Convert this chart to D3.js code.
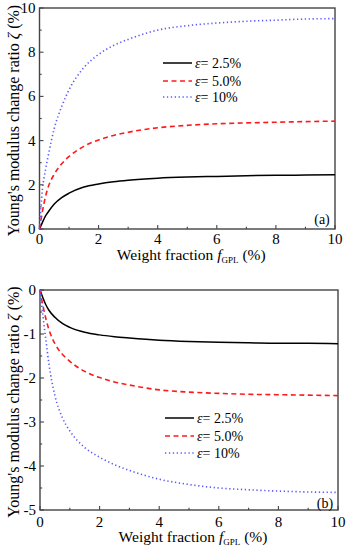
<!DOCTYPE html>
<html><head><meta charset="utf-8">
<script src="https://cdn.jsdelivr.net/npm/d3@7"></script>
<style>
html,body{margin:0;padding:0;background:#fff;}
svg{display:block;}
</style></head>
<body><svg id="c" width="348" height="550"></svg>
<script>
// Weight fraction f_GPL (%)
const fGPL = [0, 0.1, 0.2, 0.3, 0.5, 0.75, 1, 1.5, 2, 2.5, 3, 4, 5, 6, 7, 8, 9, 10];
// Panel (a)
const a_eps25 = [0, 0.30, 0.58, 0.78, 1.13, 1.42, 1.62, 1.90, 2.04, 2.14, 2.21, 2.30, 2.35, 2.38, 2.41, 2.43, 2.44, 2.45];
const a_eps50 = [0, 0.80, 1.45, 1.92, 2.48, 2.95, 3.28, 3.74, 4.03, 4.23, 4.38, 4.58, 4.69, 4.76, 4.80, 4.83, 4.86, 4.88];
const a_eps10 = [0, 1.80, 2.65, 3.35, 4.55, 5.54, 6.30, 7.30, 7.90, 8.30, 8.58, 9.00, 9.20, 9.32, 9.40, 9.45, 9.50, 9.52];
// Panel (b)
const b_eps25 = [0, -0.18, -0.34, -0.46, -0.62, -0.76, -0.85, -0.96, -1.02, -1.06, -1.09, -1.14, -1.17, -1.19, -1.20, -1.21, -1.21, -1.22];
const b_eps50 = [0, -0.36, -0.66, -0.90, -1.22, -1.46, -1.62, -1.85, -1.99, -2.09, -2.16, -2.27, -2.32, -2.35, -2.37, -2.38, -2.39, -2.40];
const b_eps10 = [0, -0.60, -1.15, -1.68, -2.40, -2.90, -3.20, -3.58, -3.80, -3.97, -4.10, -4.30, -4.42, -4.50, -4.54, -4.57, -4.59, -4.60];

const seriesNames = ["2.5%", "5.0%", "10%"];
const xTicks = [0, 2, 4, 6, 8, 10];
const xMinor = [1, 3, 5, 7, 9];
const aYTicks = [0, 2, 4, 6, 8, 10];
const aYMinor = [1, 3, 5, 7, 9];
const bYTicks = [0, -1, -2, -3, -4, -5];
const bYMinor = [-0.5, -1.5, -2.5, -3.5, -4.5];

const styles = [
  {color: "#000000", dash: null, width: 1.5},
  {color: "#ff1a1a", dash: "5,3.5", width: 1.6},
  {color: "#5a5aff", dash: "1.3,2.6", width: 1.6}
];
const FONT = '"Liberation Serif"';

const svg = d3.select("#c");

function txt(sel) { return sel.append("text").style("font-family", FONT); }

function panel(opt) {
  const x = d3.scaleLinear().domain([0, 10]).range([opt.left, opt.right]);
  const y = d3.scaleLinear().domain(opt.ydom).range([opt.bottom, opt.top]);
  const g = svg.append("g");

  g.append("rect").attr("x", opt.left).attr("y", opt.top)
    .attr("width", opt.right - opt.left).attr("height", opt.bottom - opt.top)
    .attr("fill", "none").attr("stroke", "#444").attr("stroke-width", 1.4);

  const ax = g.append("g").attr("stroke", "#444").attr("stroke-width", 1.1);
  xTicks.forEach(t => ax.append("line").attr("x1", x(t)).attr("x2", x(t)).attr("y1", opt.bottom).attr("y2", opt.bottom - 4));
  xMinor.forEach(t => ax.append("line").attr("x1", x(t)).attr("x2", x(t)).attr("y1", opt.bottom).attr("y2", opt.bottom - 2.2));
  opt.yt.forEach(t => ax.append("line").attr("y1", y(t)).attr("y2", y(t)).attr("x1", opt.left).attr("x2", opt.left + 4));
  opt.ym.forEach(t => ax.append("line").attr("y1", y(t)).attr("y2", y(t)).attr("x1", opt.left).attr("x2", opt.left + 2.2));

  xTicks.forEach(t => txt(g).attr("x", x(t)).attr("y", opt.bottom + opt.tickDy)
    .attr("text-anchor", "middle").attr("font-size", 15).text(t));
  opt.yt.forEach(t => txt(g).attr("x", opt.left - 4).attr("y", y(t) + 5)
    .attr("text-anchor", "end").attr("font-size", 15).text(t));

  const xt = txt(g).attr("x", (opt.left + opt.right) / 2 + 4).attr("y", opt.bottom + opt.titleDy)
    .attr("text-anchor", "middle").attr("font-size", 15.5);
  xt.append("tspan").text("Weight fraction ");
  xt.append("tspan").attr("font-style", "italic").text("f");
  xt.append("tspan").attr("font-size", 9).attr("dy", 3).text("GPL");
  xt.append("tspan").attr("dy", -3).text(" (%)");

  const yt = txt(g)
    .attr("transform", `translate(${opt.titleX},${(opt.top + opt.bottom) / 2 + 2}) rotate(-90)`)
    .attr("text-anchor", "middle").attr("font-size", 16);
  yt.append("tspan").text("Young's modulus change ratio ");
  yt.append("tspan").attr("font-style", "italic").text("ζ");
  yt.append("tspan").text(" (%)");

  const line = d3.line().x((d, i) => x(fGPL[i])).y(d => y(d)).curve(d3.curveMonotoneX);
  opt.data.forEach((arr, k) => {
    g.append("path").attr("d", line(arr)).attr("fill", "none")
      .attr("stroke", styles[k].color).attr("stroke-width", styles[k].width)
      .attr("stroke-dasharray", styles[k].dash);
  });

  seriesNames.forEach((nm, k) => {
    const ly = opt.legY[k];
    g.append("line").attr("x1", opt.legX).attr("x2", opt.legX + 29).attr("y1", ly).attr("y2", ly)
      .attr("stroke", styles[k].color).attr("stroke-width", styles[k].width)
      .attr("stroke-dasharray", styles[k].dash);
    const t = txt(g).attr("x", opt.legX + 32).attr("y", ly + 5).attr("font-size", 14);
    t.append("tspan").attr("font-style", "italic").text("ε");
    t.append("tspan").text("= " + nm);
  });

  txt(g).attr("x", opt.labX).attr("y", opt.labY).attr("text-anchor", "middle")
    .attr("font-size", 14).text(opt.label);
}

panel({left: 39.5, right: 335, top: 8, bottom: 229, ydom: [0, 10], yt: aYTicks, ym: aYMinor,
  data: [a_eps25, a_eps50, a_eps10], legX: 163, legY: [63, 81, 97], label: "(a)", labX: 322, labY: 224,
  titleX: 19, tickDy: 15, titleDy: 31});
panel({left: 40, right: 338, top: 290, bottom: 510, ydom: [-5, 0], yt: bYTicks, ym: bYMinor,
  data: [b_eps25, b_eps50, b_eps10], legX: 165, legY: [418, 436, 453], label: "(b)", labX: 325, labY: 508,
  titleX: 19, tickDy: 16.5, titleDy: 32});
</script>
</body></html>
